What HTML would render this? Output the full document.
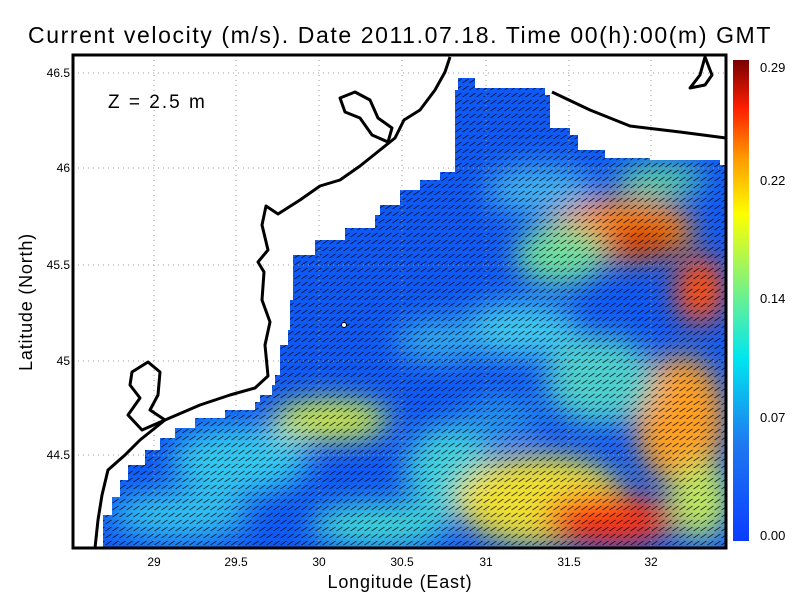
<!DOCTYPE html>
<html><head><meta charset="utf-8"><style>
body{margin:0;background:#fff;}
svg{display:block;font-family:"Liberation Sans",sans-serif;}
</style></head><body>
<svg width="800" height="600" viewBox="0 0 800 600">
<defs>
<clipPath id="sea"><polygon points="103,548 103,515 112,515 112,497 120,497 120,480 128,480 128,465 145,465 145,450 160,450 160,438 175,438 175,428 195,428 195,418 225,418 225,410 255,410 255,402 260,402 260,395 272,395 272,385 275,385 275,375 280,375 280,345 288,345 288,330 290,330 290,300 293,300 293,255 315,255 315,240 345,240 345,228 375,228 375,215 380,215 380,205 400,205 400,190 420,190 420,180 440,180 440,172 455,172 455,90 458,90 458,78 475,78 475,88 545,88 545,95 550,95 550,128 570,128 570,135 578,135 578,150 605,150 605,158 650,158 650,160 720,160 720,165 726,165 726,548"/></clipPath>
<filter id="bl" x="-50%" y="-50%" width="200%" height="200%"><feGaussianBlur stdDeviation="14"/></filter>
<linearGradient id="cb" x1="0" y1="1" x2="0" y2="0">
<stop offset="0" stop-color="#0a3cff"/><stop offset="0.2" stop-color="#1e78f0"/><stop offset="0.38" stop-color="#00e6f0"/><stop offset="0.5" stop-color="#64f096"/><stop offset="0.68" stop-color="#ffff00"/><stop offset="0.8" stop-color="#ff9600"/><stop offset="0.9" stop-color="#ff1e00"/><stop offset="1" stop-color="#780000"/>
</linearGradient>
<pattern id="arr" width="7" height="7" patternUnits="userSpaceOnUse"><path d="M0.5,6 L6.5,2" stroke="#000" stroke-width="0.9"/></pattern>
</defs>
<text x="400" y="43" text-anchor="middle" font-size="23" letter-spacing="1.6">Current velocity (m/s). Date 2011.07.18. Time 00(h):00(m) GMT</text>
<g clip-path="url(#sea)">
<rect x="73" y="55" width="653" height="493" fill="#0f5af5"/>
<g filter="url(#bl)">
<ellipse cx="330" cy="420" rx="60" ry="20" fill="#d8f040"/>
<ellipse cx="240" cy="460" rx="70" ry="35" fill="#30c8f0"/>
<ellipse cx="180" cy="515" rx="70" ry="25" fill="#30c0f0"/>
<ellipse cx="450" cy="470" rx="45" ry="45" fill="#40d0e0"/>
<ellipse cx="380" cy="525" rx="70" ry="22" fill="#40d8d8"/>
<ellipse cx="540" cy="500" rx="85" ry="45" fill="#f0e030"/>
<ellipse cx="610" cy="520" rx="65" ry="25" fill="#ff3010"/>
<ellipse cx="680" cy="420" rx="45" ry="65" fill="#ffa020"/>
<ellipse cx="620" cy="230" rx="75" ry="32" fill="#ff8a10"/>
<ellipse cx="640" cy="240" rx="35" ry="15" fill="#d02000"/>
<ellipse cx="700" cy="290" rx="25" ry="35" fill="#ff5010"/>
<ellipse cx="560" cy="255" rx="45" ry="30" fill="#70e0a0"/>
<ellipse cx="520" cy="330" rx="60" ry="28" fill="#40c8f0"/>
<ellipse cx="440" cy="340" rx="45" ry="22" fill="#30a8f0"/>
<ellipse cx="600" cy="380" rx="55" ry="45" fill="#50d0d0"/>
<ellipse cx="540" cy="190" rx="55" ry="25" fill="#40b0f0"/>
<ellipse cx="660" cy="180" rx="45" ry="15" fill="#60e0a0"/>
<ellipse cx="500" cy="420" rx="40" ry="25" fill="#2090f0"/>
<ellipse cx="700" cy="500" rx="30" ry="40" fill="#c0e860"/>
</g>
<rect x="73" y="55" width="653" height="493" fill="url(#arr)" opacity="0.75"/>
</g>
<g stroke="#999" stroke-dasharray="1,4" stroke-width="1">
<line x1="154" y1="55" x2="154" y2="548"/><line x1="236" y1="55" x2="236" y2="548"/><line x1="319" y1="55" x2="319" y2="548"/><line x1="402" y1="55" x2="402" y2="548"/><line x1="486" y1="55" x2="486" y2="548"/><line x1="569" y1="55" x2="569" y2="548"/><line x1="651" y1="55" x2="651" y2="548"/>
<line x1="73" y1="73" x2="726" y2="73"/><line x1="73" y1="168" x2="726" y2="168"/><line x1="73" y1="265" x2="726" y2="265"/><line x1="73" y1="361" x2="726" y2="361"/><line x1="73" y1="455" x2="726" y2="455"/>
</g>
<g fill="none" stroke="#000" stroke-width="3" stroke-linejoin="round">
<polyline points="95,548 98,520 102,495 108,470 125,455 140,440 165,420 200,405 230,395 255,388 268,376 265,345 270,322 262,300 264,272 258,262 268,250 262,225 266,206 278,214 300,200 320,186 340,180 360,166 380,150 395,138 404,120 420,110 435,90 445,72 450,57"/>
<path d="M132,372 L148,362 L160,372 L158,395 L150,410 L165,420 L142,430 L128,415 L140,398 L130,385 Z"/>
<path d="M340,98 L355,92 L370,100 L378,118 L392,128 L388,142 L372,135 L360,118 L345,112 Z"/>
<polyline points="552,92 590,110 630,126 680,132 726,138"/>
<path d="M705,57 L712,75 L705,85 L690,88 L700,75 Z"/>
</g>
<circle cx="344" cy="325" r="2.5" fill="#fff" stroke="#000" stroke-width="1"/>
<rect x="73" y="55" width="653" height="493" fill="none" stroke="#000" stroke-width="3"/>
<text x="108" y="108" font-size="19" letter-spacing="2">Z = 2.5 m</text>
<g font-size="12" text-anchor="middle">
<text x="154" y="566">29</text><text x="236" y="566">29.5</text><text x="319" y="566">30</text><text x="402" y="566">30.5</text><text x="486" y="566">31</text><text x="569" y="566">31.5</text><text x="651" y="566">32</text>
</g>
<g font-size="12" text-anchor="end">
<text x="70" y="77">46.5</text><text x="70" y="172">46</text><text x="70" y="269">45.5</text><text x="70" y="365">45</text><text x="70" y="459">44.5</text>
</g>
<text x="400" y="588" text-anchor="middle" font-size="18" letter-spacing="0.8">Longitude (East)</text>
<text transform="translate(32,302) rotate(-90)" text-anchor="middle" font-size="18" letter-spacing="0.8">Latitude (North)</text>
<rect x="733" y="60" width="16" height="481" fill="url(#cb)"/>
<g font-size="13">
<text x="760" y="72">0.29</text><text x="760" y="185">0.22</text><text x="760" y="303">0.14</text><text x="760" y="422">0.07</text><text x="760" y="540">0.00</text>
</g>
</svg>
</body></html>
